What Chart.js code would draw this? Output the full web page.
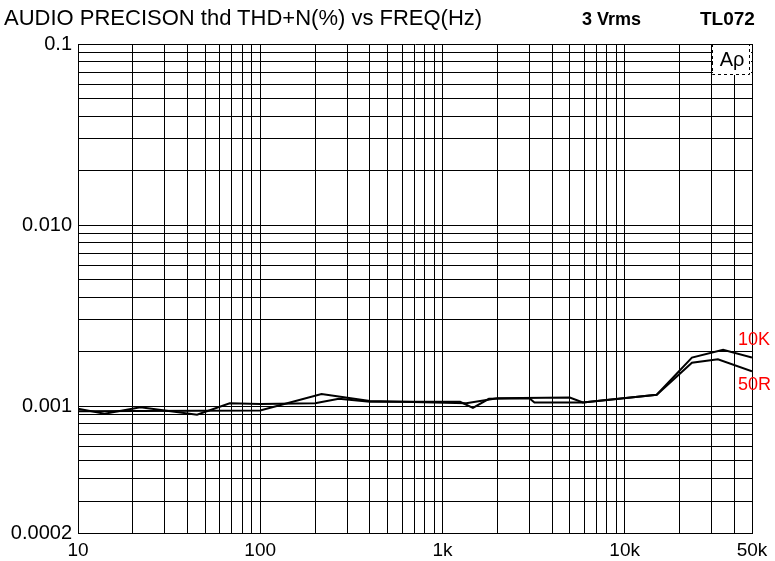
<!DOCTYPE html>
<html>
<head>
<meta charset="utf-8">
<script src="https://cdn.jsdelivr.net/npm/chart.js@4.4.0/dist/chart.umd.min.js"></script>
<style>
  html, body { margin: 0; padding: 0; background: #fff; }
  #wrap { position: relative; width: 775px; height: 561px; font-family: "Liberation Sans", Arial, sans-serif; }
  #chart { position: absolute; left: 0; top: 0; }
  .t { position: absolute; white-space: nowrap; color: #000; line-height: normal; }
</style>
</head>
<body>
<div id="wrap">
  <canvas id="chart" width="775" height="561"></canvas>
  <div class="t" style="left:4px;top:5px;font-size:22px;">AUDIO PRECISON thd THD+N(%) vs FREQ(Hz)</div>
  <div class="t" style="left:582px;top:9px;font-size:18px;font-weight:bold;">3 Vrms</div>
  <div class="t" style="left:700px;top:8px;font-size:19px;font-weight:bold;">TL072</div>
</div>
<script>
// THD+N (%) vs frequency (Hz)
const freq10k = [10, 14, 22, 45, 68, 100, 200, 270, 400, 1250, 1470, 1800, 3000, 3200, 5900, 15000, 23400, 34700, 50000];
const thd10k  = [0.00097, 0.00091, 0.00099, 0.00090, 0.00104, 0.00103, 0.00104, 0.00110, 0.00106, 0.00106, 0.00098, 0.00110, 0.00111, 0.00105, 0.00105, 0.00116, 0.00186, 0.00205, 0.00186];

const freq50r = [10, 100, 217, 400, 1350, 2000, 5000, 5900, 15000, 23400, 32500, 50000];
const thd50r  = [0.00094, 0.00095, 0.00117, 0.00107, 0.00104, 0.00111, 0.00112, 0.00105, 0.00116, 0.00174, 0.00182, 0.00156];

const seriesNames = ['10K', '50R'];

const xTickValues = [10, 100, 1000, 10000, 50000];
const xTickLabels = ['10', '100', '1k', '10k', '50k'];
const yTickValues = [0.1, 0.01, 0.001, 0.0002];
const yTickLabels = ['0.1', '0.010', '0.001', '0.0002'];

// log grid: 1..9 per decade
function logGrid(min, max) {
  const out = [];
  for (let e = Math.floor(Math.log10(min)); e <= Math.ceil(Math.log10(max)); e++) {
    for (let m = 1; m <= 9; m++) {
      const v = m * Math.pow(10, e);
      if (v >= min * 0.9999 && v <= max * 1.0001) out.push(v);
    }
  }
  return out;
}
const xGrid = logGrid(10, 50000);
const yGrid = logGrid(0.0002, 0.1);

function lookup(vals, labels, v) {
  const i = vals.findIndex(t => Math.abs(t - v) / t < 1e-6);
  return i >= 0 ? labels[i] : '';
}

const FONT = '"Liberation Sans", Arial, sans-serif';

const extras = {
  id: 'extras',
  afterDraw(chart) {
    const ctx = chart.ctx;
    const a = chart.chartArea;
    const xs = chart.scales.x, ys = chart.scales.y;
    ctx.save();
    // Ap logo box
    ctx.fillStyle = '#fff';
    ctx.fillRect(a.right - 39, a.top + 1, 38, 30);
    ctx.strokeStyle = '#000';
    ctx.lineWidth = 1;
    ctx.setLineDash([3, 3]);
    ctx.beginPath();
    ctx.moveTo(a.right - 39.5, a.top); ctx.lineTo(a.right - 39.5, a.top + 30.5);
    ctx.lineTo(a.right - 2.5, a.top + 30.5); ctx.lineTo(a.right - 2.5, a.top);
    ctx.stroke();
    ctx.setLineDash([]);
    ctx.fillStyle = '#000';
    ctx.font = '20px ' + FONT;
    ctx.textAlign = 'center';
    ctx.textBaseline = 'middle';
    ctx.fillText('Aρ', a.right - 20, a.top + 16);
    // series labels
    ctx.fillStyle = '#ff0000';
    ctx.font = '18px ' + FONT;
    ctx.textAlign = 'left';
    const lx = xs.getPixelForValue(freq10k[freq10k.length - 1]) - 14;
    ctx.fillText(seriesNames[0], lx, ys.getPixelForValue(thd10k[thd10k.length - 1]) - 17);
    ctx.fillText(seriesNames[1], lx, ys.getPixelForValue(thd50r[thd50r.length - 1]) + 14);
    ctx.restore();
  }
};

new Chart(document.getElementById('chart'), {
  type: 'scatter',
  data: {
    datasets: [{
      label: seriesNames[0],
      data: freq10k.map((f, i) => ({ x: f, y: thd10k[i] })),
      showLine: true,
      borderColor: '#000',
      borderWidth: 2,
      pointRadius: 0,
      tension: 0
    }, {
      label: seriesNames[1],
      data: freq50r.map((f, i) => ({ x: f, y: thd50r[i] })),
      showLine: true,
      borderColor: '#000',
      borderWidth: 2,
      pointRadius: 0,
      tension: 0
    }]
  },
  options: {
    responsive: false,
    animation: false,
    layout: { padding: { top: 44, right: 23, left: 0, bottom: 0 } },
    plugins: { legend: { display: false }, tooltip: { enabled: false } },
    scales: {
      x: {
        type: 'logarithmic',
        min: 10,
        max: 50000,
        afterBuildTicks: s => { s.ticks = xGrid.map(v => ({ value: v })); },
        afterFit: s => { s.height = 28; },
        grid: { color: '#000', lineWidth: 1, drawTicks: false },
        border: { color: '#000', width: 1 },
        ticks: {
          autoSkip: false, maxRotation: 0, padding: 6, color: '#000',
          font: { family: FONT, size: 19 },
          callback: v => lookup(xTickValues, xTickLabels, v)
        }
      },
      y: {
        type: 'logarithmic',
        min: 0.0002,
        max: 0.1,
        afterBuildTicks: s => { s.ticks = yGrid.map(v => ({ value: v })); },
        afterFit: s => { s.width = 78; },
        grid: { color: '#000', lineWidth: 1, drawTicks: false },
        border: { color: '#000', width: 1 },
        ticks: {
          autoSkip: false, padding: 6, color: '#000',
          font: { family: FONT, size: 20 },
          callback: v => lookup(yTickValues, yTickLabels, v)
        }
      }
    }
  },
  plugins: [extras]
});
</script>
</body>
</html>
